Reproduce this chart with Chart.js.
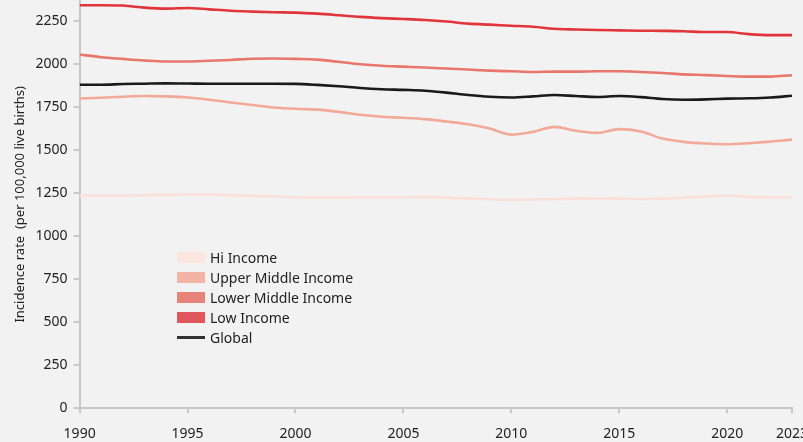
<!DOCTYPE html>
<html>
<head>
<meta charset="utf-8">
<script src="https://cdn.jsdelivr.net/npm/chart.js@4"></script>
<style>
  html, body { margin: 0; padding: 0; background: #f2f2f2; overflow: hidden; }
  #wrap { position: relative; width: 820px; height: 442px; }
  #box { position: absolute; left: 0; top: -14px; width: 820px; height: 468px; }
  #legend { position: absolute; left: 177px; top: 247px; font-family: "Noto Sans", sans-serif; font-size: 14px; color: #222; }
  .item { height: 20px; display: flex; align-items: center; }
  .swatch { width: 28px; height: 11px; margin-right: 5px; }
  .swatch.line { height: 3px; }
</style>
</head>
<body>
<div id="wrap">
  <div id="box"><canvas id="grafico"></canvas></div>
  <div id="legend"></div>
</div>
<script>
const years = [];
for (let y = 1990; y <= 2023; y++) years.push(y);

const seriesNames = ['Hi Income', 'Upper Middle Income', 'Lower Middle Income', 'Low Income', 'Global'];

const hiIncome = [1236,1236,1236,1238,1240,1242,1242,1238,1234,1230,
                  1226,1224,1224,1226,1226,1226,1228,1224,1218,1214,
                  1211,1213,1215,1218,1219,1218,1216,1218,1224,1230,
                  1236,1228,1226,1226];
const upperMiddle = [1800,1804,1810,1814,1812,1806,1793,1777,1762,1748,
                     1740,1735,1722,1705,1694,1688,1680,1666,1650,1625,
                     1590,1606,1635,1612,1600,1622,1608,1567,1548,1538,
                     1534,1540,1549,1561];
const lowerMiddle = [2056,2040,2030,2021,2015,2015,2019,2024,2031,2032,
                     2030,2026,2013,1999,1990,1985,1980,1974,1968,1962,
                     1958,1954,1956,1956,1958,1958,1954,1948,1940,1936,
                     1931,1927,1927,1935];
const lowIncome = [2342,2342,2340,2328,2322,2326,2318,2310,2305,2301,
                   2299,2293,2284,2274,2267,2262,2256,2247,2235,2229,
                   2223,2217,2205,2201,2198,2196,2194,2193,2191,2186,
                   2186,2174,2168,2168];
const globalRate = [1880,1880,1884,1886,1888,1887,1886,1886,1886,1886,
                    1885,1879,1871,1861,1854,1850,1845,1834,1820,1810,
                    1806,1812,1820,1814,1809,1814,1808,1797,1793,1795,
                    1799,1801,1806,1816];

const xTicks = [1990, 1995, 2000, 2005, 2010, 2015, 2020, 2023];
const yTicks = [0, 250, 500, 750, 1000, 1250, 1500, 1750, 2000, 2250];

const lineColors = ['#f9e0d8', '#f2a998', '#e8766b', '#e1353b', '#1a1a1a'];
const boxColors = ['#fbe6df', '#f3b4a6', '#e8837a', '#df575b', '#333333'];

const values = [hiIncome, upperMiddle, lowerMiddle, lowIncome, globalRate];

const datasets = values.map(function(v, i) {
    return {
        label: seriesNames[i],
        data: v.map(function(val, k) { return {x: years[k], y: val}; }),
        borderColor: lineColors[i],
        backgroundColor: lineColors[i],
        borderWidth: 2.6,
        pointRadius: 0,
        cubicInterpolationMode: 'monotone',
        order: 10 - i
    };
});

// legenda feita em HTML, dentro da área do gráfico
const leg = document.getElementById('legend');
seriesNames.forEach(function(name, i) {
    const row = document.createElement('div');
    row.className = 'item';
    const sw = document.createElement('span');
    sw.className = 'swatch' + (i === 4 ? ' line' : '');
    sw.style.background = boxColors[i];
    const t = document.createElement('span');
    t.textContent = name;
    row.appendChild(sw);
    row.appendChild(t);
    leg.appendChild(row);
});

const tickFont = { family: 'Noto Sans', size: 14 };
const axisColor = '#c8c8c8';

const ctx = document.getElementById('grafico');
new Chart(ctx, {
    type: 'line',
    data: { datasets: datasets },
    options: {
        responsive: true,
        maintainAspectRatio: false,
        animation: false,
        layout: { padding: { top: 0, left: 12, right: 0, bottom: 0 } },
        plugins: { legend: { display: false }, tooltip: { enabled: false } },
        scales: {
            x: {
                type: 'linear',
                min: 1990,
                max: 2023,
                afterBuildTicks: function(axis) {
                    axis.ticks = xTicks.map(function(v) { return {value: v}; });
                },
                ticks: {
                    font: tickFont, color: '#222', padding: 12, maxRotation: 0,
                    callback: function(v) { return String(v); }
                },
                grid: { drawOnChartArea: false, color: axisColor, tickLength: 5, lineWidth: 2 },
                border: { color: axisColor, width: 2 }
            },
            y: {
                min: 0,
                max: 2370,
                afterBuildTicks: function(axis) {
                    axis.ticks = yTicks.map(function(v) { return {value: v}; });
                },
                ticks: {
                    font: tickFont, color: '#222', padding: 6,
                    callback: function(v) { return String(v); }
                },
                grid: { drawOnChartArea: false, color: axisColor, tickLength: 6, lineWidth: 2 },
                border: { color: axisColor, width: 2 },
                title: {
                    display: true,
                    text: 'Incidence rate  (per 100,000 live births)',
                    font: { family: 'Noto Sans', size: 13 },
                    color: '#222',
                    padding: { top: 0, bottom: 2 }
                }
            }
        }
    }
});
</script>
</body>
</html>
